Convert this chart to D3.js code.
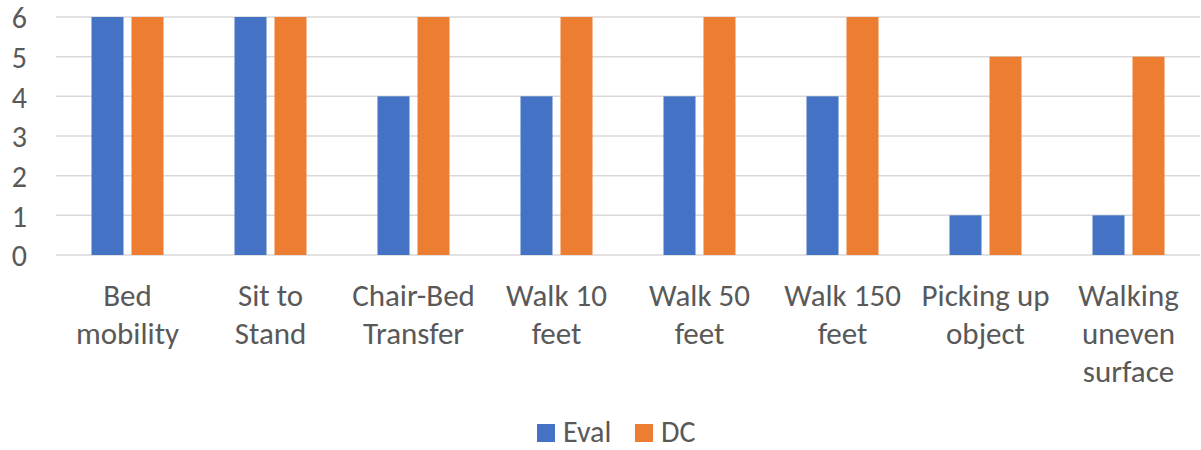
<!DOCTYPE html>
<html>
<head>
<meta charset="utf-8"/>
<script src="https://d3js.org/d3.v7.min.js"></script>
<style>
body { margin: 0; background: #fff; }
text { font-family: Carlito, Lato, "Open Sans", sans-serif; fill: #595959; }
</style>
</head>
<body>
<script>
// chart data
var categories = ["Bed mobility", "Sit to Stand", "Chair-Bed Transfer", "Walk 10 feet",
                  "Walk 50 feet", "Walk 150 feet", "Picking up object", "Walking uneven surface"];
var categoryLines = [["Bed", "mobility"], ["Sit to", "Stand"], ["Chair-Bed", "Transfer"], ["Walk 10", "feet"],
                     ["Walk 50", "feet"], ["Walk 150", "feet"], ["Picking up", "object"], ["Walking", "uneven", "surface"]];
var seriesNames = ["Eval", "DC"];
var evalValues = [6, 6, 4, 4, 4, 4, 1, 1];
var dcValues = [6, 6, 6, 6, 6, 6, 5, 5];
var yTicks = [0, 1, 2, 3, 4, 5, 6];
var colors = ["#4472C4", "#ED7D31"];

var width = 1201,
    height = 450;

var svg = d3.select("body").append("svg")
            .attr("width", width)
            .attr("height", height);

var x0 = d3.scaleBand()
           .domain(categories)
           .range([56, 1200]);

var x1 = d3.scaleBand()
           .domain(seriesNames)
           .range([0, x0.bandwidth()])
           .paddingInner(0.2)
           .paddingOuter(0.8875);

var y = d3.scaleLinear()
          .domain([0, 6])
          .range([255, 17]);

var color = d3.scaleOrdinal().domain(seriesNames).range(colors);

// gridlines
svg.append("g")
   .selectAll("line")
   .data(yTicks)
   .enter()
   .append("line")
   .attr("x1", 56)
   .attr("x2", 1200)
   .attr("y1", function(d) { return y(d); })
   .attr("y2", function(d) { return y(d); })
   .style("stroke", "#d9d9d9")
   .style("stroke-width", 1.5);

// y axis labels
var yAxis = d3.axisLeft(y).tickValues(yTicks).tickSize(0).tickPadding(0).tickFormat(d3.format("d"));
var yg = svg.append("g")
            .attr("transform", "translate(27,0)")
            .call(yAxis);
yg.select(".domain").remove();
yg.selectAll("text")
  .style("font-size", "30px")
  .style("font-family", null)
  .attr("fill", "#595959")
  .attr("dy", "0.36em");

// bars
var rows = categories.map(function(c, i) {
    return { cat: c, values: [evalValues[i], dcValues[i]] };
});

svg.append("g")
   .selectAll("g")
   .data(rows)
   .enter()
   .append("g")
   .attr("transform", function(d) { return "translate(" + x0(d.cat) + ",0)"; })
   .selectAll("rect")
   .data(function(d) { return d.values.map(function(v, j) { return { key: seriesNames[j], value: v }; }); })
   .enter()
   .append("rect")
   .attr("x", function(d) { return x1(d.key); })
   .attr("width", x1.bandwidth())
   .attr("y", function(d) { return y(d.value); })
   .attr("height", function(d) { return y(0) - y(d.value); })
   .style("fill", function(d) { return color(d.key); });

// x category labels
var xl = svg.append("g")
            .selectAll("text")
            .data(categories)
            .enter()
            .append("text")
            .attr("text-anchor", "middle")
            .style("font-size", "31px")
            .attr("transform", function(d) { return "translate(" + (x0(d) + x0.bandwidth() / 2) + ",306)"; });

xl.selectAll("tspan")
  .data(function(d, i) { return categoryLines[i]; })
  .enter()
  .append("tspan")
  .attr("x", 0)
  .attr("y", function(d, i) { return i * 38; })
  .text(function(d) { return d; });

// legend
var legend = svg.append("g")
                .selectAll("g")
                .data(seriesNames)
                .enter()
                .append("g")
                .attr("transform", function(d, i) { return "translate(" + [537, 635][i] + ",424)"; });

legend.append("rect")
      .attr("width", 18)
      .attr("height", 18)
      .style("fill", function(d) { return color(d); });

legend.append("text")
      .attr("x", 26)
      .attr("y", 18)
      .style("font-size", "30px")
      .text(function(d) { return d; });
</script>
</body>
</html>
